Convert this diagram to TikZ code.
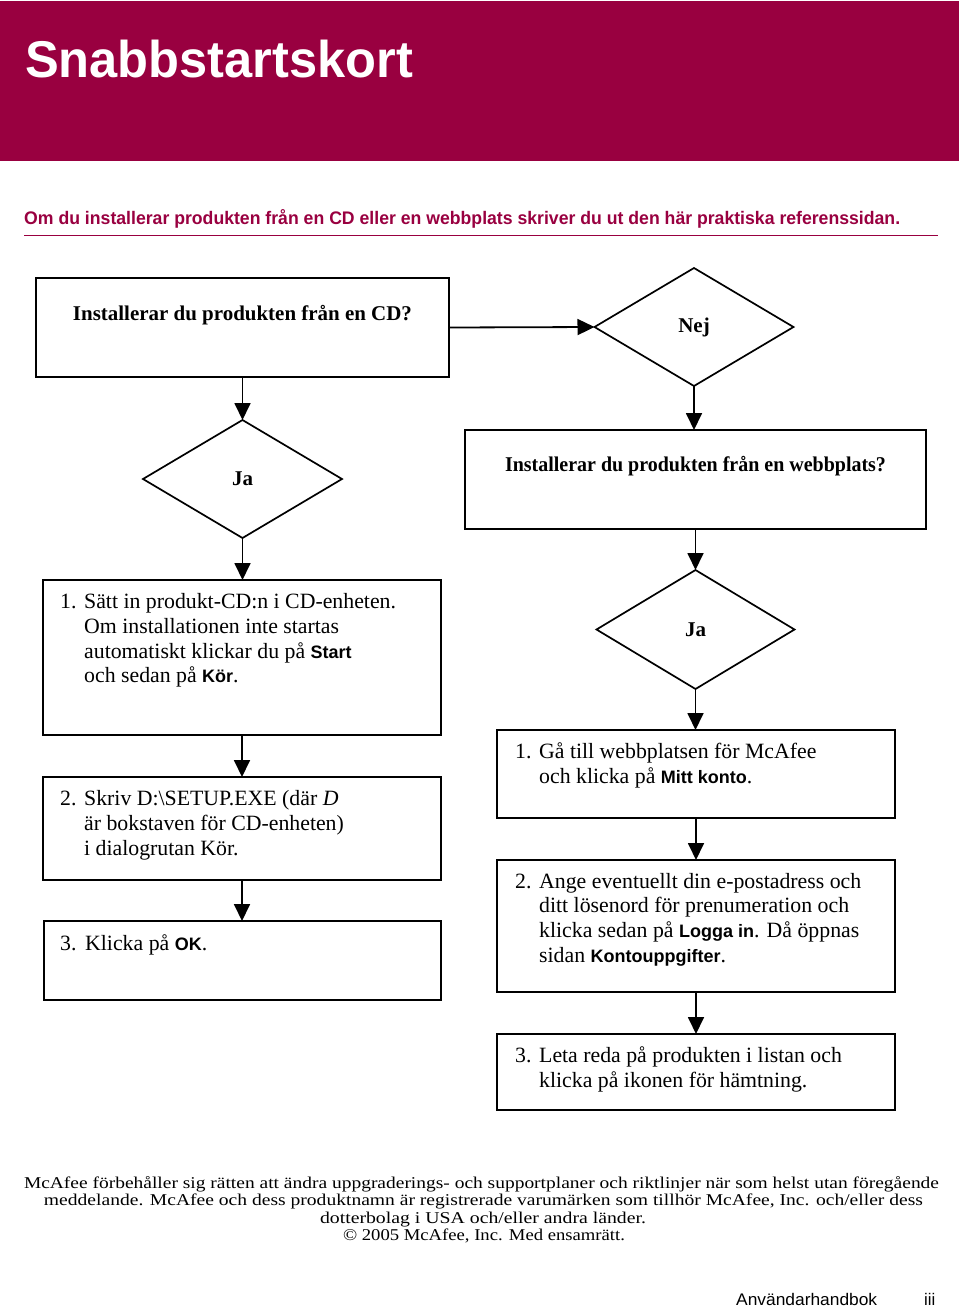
\documentclass[tikz,border=0pt]{standalone}
\usepackage{fontspec}
\usepackage{graphicx}
\setmainfont{Liberation Serif}
\newfontfamily\hsans{Liberation Sans}
\usetikzlibrary{shapes.geometric,arrows.meta}
\definecolor{mcred}{RGB}{153,0,64}
\newsavebox\fitbox
\newcommand\fitw[2]{\sbox\fitbox{#2}\edef\mytmpw{\the\wd\fitbox}\pgfmathsetmacro\myfx{#1/\mytmpw}\scalebox{\myfx}[1]{\usebox\fitbox}}
\newcommand\ui[1]{{\hsans\bfseries\fontsize{18}{24.7}\selectfont #1}}
\tikzset{
 boxn/.style={draw, line width=1.7pt, inner sep=0pt, outer sep=0pt, anchor=north west},
 dia/.style={diamond, draw, line width=1.7pt, inner sep=0pt, outer sep=0pt, font=\bfseries\fontsize{21}{24}\selectfont},
 arr/.style={line width=1.8pt, -{Triangle[length=17pt,width=16pt]}},
 qtext/.style={anchor=base, inner sep=0pt, font=\bfseries\fontsize{21}{24}\selectfont},
 body/.style={anchor=base west, inner sep=0pt, font=\fontsize{21.8}{24.7}\selectfont},
 foot/.style={anchor=base, inner sep=0pt, font=\fontsize{16.5}{17.5}\selectfont},
}
\begin{document}
\begin{tikzpicture}[x=1pt,y=-1pt]
\useasboundingbox (0,0) rectangle (960,1307);
% header
\fill[mcred] (0,1) rectangle (959,161);
\node[anchor=base west, inner sep=0pt, text=white, font=\hsans\bfseries\fontsize{51.7}{60}\selectfont] (title) at (25,77.5) {\fitw{388}{Snabbstartskort}};
\node[anchor=base west, inner sep=0pt, text=mcred, font=\hsans\bfseries\fontsize{18.2}{22}\selectfont] (sub) at (24,224) {\fitw{876}{Om du installerar produkten från en CD eller en webbplats skriver du ut den här praktiska referenssidan.}};
\draw[mcred, line width=1.4pt] (24,235.7) -- (938,235.7);

% boxes
\node[boxn, minimum width=413pt, minimum height=99pt] (A) at (36,278) {};
\node[qtext] (tA) at (242.5,320) {\fitw{339}{Installerar du produkten från en CD?}};
\node[dia, minimum width=199pt, minimum height=118pt] (nej) at (694,327) {Nej};
\node[boxn, minimum width=461pt, minimum height=99pt] (B) at (465,430) {};
\node[qtext] (tB) at (695.5,471) {\fitw{381}{Installerar du produkten från en webbplats?}};
\node[dia, minimum width=199pt, minimum height=118pt] (ja1) at (242.5,479) {Ja};
\node[dia, minimum width=198pt, minimum height=119pt] (ja2) at (695.5,629.5) {Ja};

\node[boxn, minimum width=398pt, minimum height=155pt] (L1) at (43,580) {};
\node[body] (tL1) at (60,608.7) {\begin{tabular}[t]{@{}p{24pt}@{}l@{}}1.&Sätt in produkt-CD:n i CD-enheten.\\
 &Om installationen inte startas\\
 &automatiskt klickar du på \ui{Start}\\
 &och sedan på \ui{Kör}.\end{tabular}};
\node[boxn, minimum width=398pt, minimum height=103pt] (L2) at (43,777) {};
\node[body] (tL2) at (60,805.7) {\begin{tabular}[t]{@{}p{24pt}@{}l@{}}2.&Skriv D:\textbackslash SETUP.EXE (där \textit{D}\\
 &är bokstaven för CD-enheten)\\
 &i dialogrutan Kör.\end{tabular}};
\node[boxn, minimum width=397pt, minimum height=79pt] (L3) at (44,921) {};
\node[body] (tL3) at (60,950) {\begin{tabular}[t]{@{}p{25pt}@{}l@{}}3.&Klicka på \ui{OK}.\end{tabular}};

\node[boxn, minimum width=398pt, minimum height=88pt] (R1) at (497,730) {};
\node[body] (tR1) at (515,758.6) {\begin{tabular}[t]{@{}p{24pt}@{}l@{}}1.&Gå till webbplatsen för McAfee\\
 &och klicka på \ui{Mitt konto}.\end{tabular}};
\node[boxn, minimum width=398pt, minimum height=132pt] (R2) at (497,860) {};
\node[body] (tR2) at (515,888) {\begin{tabular}[t]{@{}p{24pt}@{}l@{}}2.&Ange eventuellt din e-postadress och\\
 &ditt lösenord för prenumeration och\\
 &klicka sedan på \ui{Logga in}. Då öppnas\\
 &sidan \ui{Kontouppgifter}.\end{tabular}};
\node[boxn, minimum width=398pt, minimum height=76pt] (R3) at (497,1034) {};
\node[body] (tR3) at (515,1062.6) {\begin{tabular}[t]{@{}p{24pt}@{}l@{}}3.&Leta reda på produkten i listan och\\
 &klicka på ikonen för hämtning.\end{tabular}};

% connectors
\draw[arr] (A.south) -- (ja1.north);
\draw[arr] (A.east) -- (nej.west);
\draw[arr] (nej.south) -- (nej.south |- B.north);
\draw[arr] (ja2.north |- B.south) -- (ja2.north);
\draw[arr] (ja2.south) -- (ja2.south |- R1.north);
\draw[arr] (R1.south) -- (R2.north);
\draw[arr] (R2.south) -- (R3.north);
\draw[arr] (ja1.south) -- (ja1.south |- L1.north);
\draw[arr] (L1.south) -- (L2.north);
\draw[arr] (L2.south) -- (L2.south |- L3.north);

% footer
\node[foot] (f1) at (481.5,1188) {\fitw{915}{McAfee förbehåller sig rätten att ändra uppgraderings- och supportplaner och riktlinjer när som helst utan föregående}};
\node[foot] (f2) at (483.5,1205.5) {\fitw{879}{meddelande. McAfee och dess produktnamn är registrerade varumärken som tillhör McAfee, Inc. och/eller dess}};
\node[foot] (f3) at (483,1223) {\fitw{326}{dotterbolag i USA och/eller andra länder.}};
\node[foot] (f4) at (484,1240.5) {\fitw{282}{© 2005 McAfee, Inc. Med ensamrätt.}};
\node[anchor=base west, inner sep=0pt, font=\hsans\fontsize{16.8}{20}\selectfont] (hb) at (736,1305) {\fitw{141}{Användarhandbok}};
\node[anchor=base west, inner sep=0pt, font=\hsans\fontsize{16.8}{20}\selectfont] (pg) at (924,1305) {iii};
\end{tikzpicture}
\end{document}
